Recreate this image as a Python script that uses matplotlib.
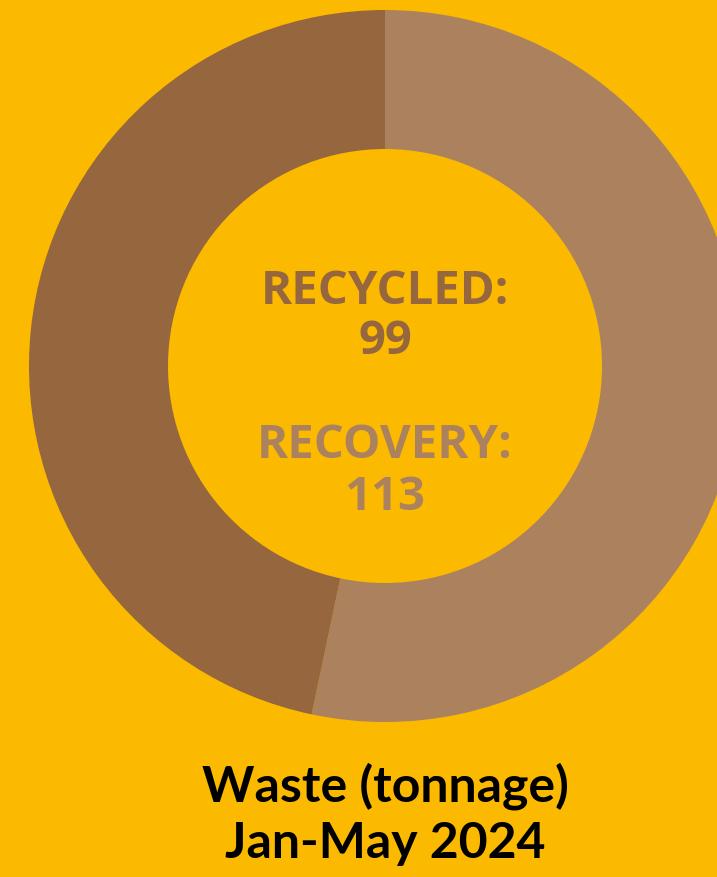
import matplotlib.pyplot as plt

# waste data, Jan-May 2024 (tonnes)
categories = ["RECOVERY", "RECYCLED"]
values = [113, 99]
colours = ["#AC825E", "#96663F"]

bg = "#FBB900"

fig = plt.figure(figsize=(7.17, 8.77), dpi=100, facecolor=bg)
ax = fig.add_axes([0, 0, 1, 1])
ax.set_facecolor(bg)

ax.pie(values, colors=colours, startangle=90, counterclock=False,
       center=(385, 511), radius=356, frame=True,
       wedgeprops=dict(width=139, linewidth=0))
ax.set_xlim(0, 717)
ax.set_ylim(0, 877)
ax.set_aspect("equal")
ax.axis("off")

lbl = dict(ha="center", va="center", fontsize=34, fontweight="bold",
           family="Open Sans")
rec = categories.index("RECYCLED")
cov = categories.index("RECOVERY")
ax.text(385, 877 - 291, f"{categories[rec]}:", color=colours[rec], **lbl)
ax.text(385, 877 - 341, str(values[rec]), color=colours[rec], **lbl)
ax.text(385, 877 - 446, f"{categories[cov]}:", color=colours[cov], **lbl)
ax.text(385, 877 - 497, str(values[cov]), color=colours[cov], **lbl)

ttl = dict(ha="center", va="center", fontsize=36, fontweight="bold",
           family="Lato", color="black")
ax.text(385, 877 - 786, "Waste (tonnage)", **ttl)
ax.text(385, 877 - 843, "Jan-May 2024", **ttl)

fig.savefig("out.png", dpi=100, facecolor=bg)
